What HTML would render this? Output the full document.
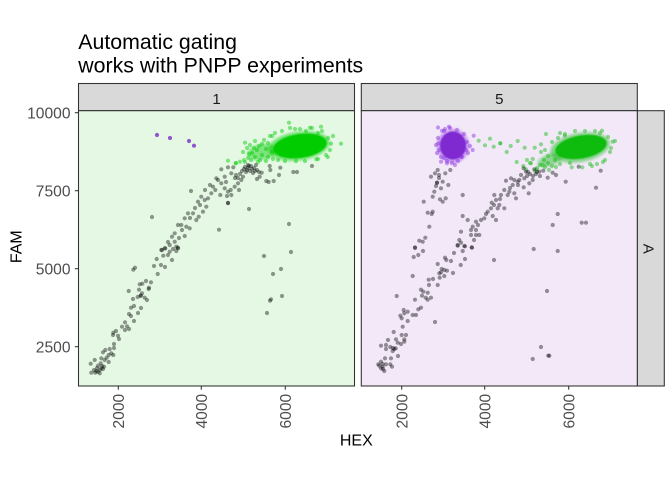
<!DOCTYPE html>
<html><head><meta charset="utf-8"><style>
html,body{margin:0;padding:0;background:#fff;}
svg{display:block;font-family:"Liberation Sans",Arial,sans-serif;}
</style></head><body>
<svg width="672" height="480" viewBox="0 0 672 480" xmlns="http://www.w3.org/2000/svg">
<defs>
<filter id="b1" x="-30%" y="-30%" width="160%" height="160%"><feGaussianBlur stdDeviation="1.2"/></filter>
<filter id="b2" x="-30%" y="-30%" width="160%" height="160%"><feGaussianBlur stdDeviation="0.6"/></filter>
</defs>
<rect width="672" height="480" fill="#fff"/>
<!-- title -->
<text x="78.3" y="49" font-size="21.3" fill="#000">Automatic gating</text>
<text x="78.3" y="72.3" font-size="21.3" fill="#000">works with PNPP experiments</text>

<!-- strips -->
<rect x="78.5" y="83.5" width="276" height="27.2" fill="#D9D9D9" stroke="#333" stroke-width="1.07"/>
<text x="216.5" y="103.8" font-size="15" fill="#1A1A1A" text-anchor="middle">1</text>
<rect x="361.3" y="83.5" width="276" height="27.2" fill="#D9D9D9" stroke="#333" stroke-width="1.07"/>
<text x="499.3" y="103.8" font-size="15" fill="#1A1A1A" text-anchor="middle">5</text>
<rect x="637.3" y="110.7" width="27" height="275.3" fill="#D9D9D9" stroke="#333" stroke-width="1.07"/>
<text transform="translate(643.5,248.8) rotate(90)" font-size="15" fill="#1A1A1A" text-anchor="middle">A</text>

<!-- panel backgrounds -->
<rect x="78.5" y="110.7" width="276" height="275.3" fill="#E4F8E4"/>
<rect x="361.3" y="110.7" width="276" height="275.3" fill="#F2E8F8"/>

<!-- LEFT PANEL -->
<!-- green cluster -->
<g>
<ellipse cx="262" cy="152" rx="15" ry="8" transform="rotate(-10 262 152)" fill="#00CC00" fill-opacity="0.45" filter="url(#b1)"/>
<ellipse cx="299" cy="146" rx="31" ry="14.5" transform="rotate(-8 299 146)" fill="#00CC00" fill-opacity="0.5" filter="url(#b1)"/>
<ellipse cx="300" cy="146" rx="27" ry="12" transform="rotate(-8 300 146)" fill="#00CC00" filter="url(#b2)"/>
</g>
<g fill="#00CC00" fill-opacity="0.45">
<circle cx="243" cy="152" r="2.1"/><circle cx="247" cy="148" r="2.1"/><circle cx="250" cy="145" r="2.1"/><circle cx="252" cy="153" r="2.1"/><circle cx="255" cy="141" r="2.1"/><circle cx="257" cy="150" r="2.1"/><circle cx="259" cy="146" r="2.1"/><circle cx="262" cy="155" r="2.1"/><circle cx="264" cy="140" r="2.1"/><circle cx="266" cy="149" r="2.1"/><circle cx="268" cy="157" r="2.1"/><circle cx="270" cy="136" r="2.1"/><circle cx="272" cy="152" r="2.1"/><circle cx="275" cy="133" r="2.1"/><circle cx="278" cy="160" r="2.1"/><circle cx="282" cy="131" r="2.1"/><circle cx="285" cy="161" r="2.1"/><circle cx="290" cy="128" r="2.1"/><circle cx="296" cy="161" r="2.1"/><circle cx="300" cy="129" r="2.1"/><circle cx="305" cy="161" r="2.1"/><circle cx="312" cy="128" r="2.1"/><circle cx="318" cy="159" r="2.1"/><circle cx="322" cy="131" r="2.1"/><circle cx="328" cy="138" r="2.1"/><circle cx="330" cy="150" r="2.1"/><circle cx="326" cy="155" r="2.1"/><circle cx="260" cy="160" r="2.1"/><circle cx="255" cy="157" r="2.1"/><circle cx="248" cy="158" r="2.1"/><circle cx="244" cy="160" r="2.1"/><circle cx="262" cy="144" r="2.1"/>
<circle cx="289" cy="122.7" r="2.1"/><circle cx="295" cy="129" r="2.1"/><circle cx="321" cy="126.7" r="2.1"/><circle cx="310" cy="127.7" r="2.1"/><circle cx="341" cy="143.7" r="2.1"/><circle cx="331" cy="143.7" r="2.1"/><circle cx="327.7" cy="157" r="2.1"/><circle cx="245" cy="142.7" r="2.1"/><circle cx="228" cy="160.7" r="2.1"/><circle cx="235.7" cy="163.3" r="2.1"/><circle cx="240" cy="161.7" r="2.1"/><circle cx="272.3" cy="136" r="2.1"/><circle cx="316.3" cy="159.3" r="2.1"/><circle cx="236" cy="163" r="2.1"/><circle cx="245" cy="162" r="2.1"/><circle cx="333" cy="136" r="2.1"/><circle cx="318" cy="133" r="2.1"/><circle cx="306" cy="131" r="2.1"/><circle cx="268" cy="143" r="2.1"/><circle cx="273" cy="159" r="2.1"/><circle cx="251" cy="160" r="2.1"/><circle cx="258" cy="162" r="2.1"/><circle cx="266" cy="161" r="2.1"/><circle cx="254" cy="148" r="2.1"/><circle cx="249" cy="154" r="2.1"/>
</g>
<!-- purple outliers -->
<g fill="#7B2FCB" fill-opacity="0.8">
<circle cx="157" cy="135" r="2.1"/><circle cx="170" cy="138" r="2.1"/><circle cx="189" cy="141" r="2.1"/><circle cx="194" cy="145.7" r="2.1"/>
</g>
<!-- black points left -->
<g fill="#000" fill-opacity="0.4">
<circle cx="221.3" cy="169.3" r="2.1"/><circle cx="228" cy="167.3" r="2.1"/><circle cx="233.3" cy="167.3" r="2.1"/><circle cx="231.3" cy="173.3" r="2.1"/><circle cx="224.7" cy="176.7" r="2.1"/><circle cx="216.3" cy="178.3" r="2.1"/><circle cx="221.3" cy="183.3" r="2.1"/><circle cx="213" cy="186.7" r="2.1"/><circle cx="215.3" cy="190" r="2.1"/><circle cx="224.7" cy="188.3" r="2.1"/><circle cx="228" cy="191.7" r="2.1"/><circle cx="230.7" cy="190" r="2.1"/><circle cx="234.7" cy="186.7" r="2.1"/><circle cx="238" cy="183.3" r="2.1"/><circle cx="241.3" cy="180" r="2.1"/><circle cx="243" cy="176.7" r="2.1"/><circle cx="239" cy="190" r="2.1"/><circle cx="231.3" cy="195" r="2.1"/><circle cx="227" cy="196" r="2.1"/><circle cx="220.3" cy="195" r="2.1"/><circle cx="211.3" cy="193.3" r="2.1"/><circle cx="208" cy="198.3" r="2.1"/><circle cx="204.7" cy="200" r="2.1"/><circle cx="201.3" cy="196.7" r="2.1"/><circle cx="198" cy="201.7" r="2.1"/><circle cx="206.3" cy="206.7" r="2.1"/><circle cx="203" cy="211.7" r="2.1"/><circle cx="198.7" cy="216.7" r="2.1"/><circle cx="196.3" cy="220" r="2.1"/><circle cx="193" cy="213.3" r="2.1"/><circle cx="188" cy="213.3" r="2.1"/><circle cx="184.7" cy="218.3" r="2.1"/><circle cx="181.3" cy="225" r="2.1"/><circle cx="186.3" cy="226.7" r="2.1"/><circle cx="189.7" cy="228.3" r="2.1"/><circle cx="178" cy="225" r="2.1"/><circle cx="174.7" cy="233.3" r="2.1"/><circle cx="172" cy="236.7" r="2.1"/><circle cx="184.7" cy="236" r="2.1"/><circle cx="174.7" cy="241.7" r="2.1"/><circle cx="169.7" cy="245" r="2.1"/><circle cx="164.7" cy="248.3" r="2.1"/><circle cx="161.3" cy="250" r="2.1"/><circle cx="176.3" cy="246.7" r="2.1"/><circle cx="178" cy="248.3" r="2.1"/>
<circle cx="245" cy="167" r="2.1"/><circle cx="248" cy="165" r="2.1"/><circle cx="251" cy="166" r="2.1"/><circle cx="254" cy="168" r="2.1"/><circle cx="257" cy="170" r="2.1"/><circle cx="250" cy="171" r="2.1"/><circle cx="246" cy="172" r="2.1"/><circle cx="253" cy="173" r="2.1"/><circle cx="242" cy="171" r="2.1"/><circle cx="256" cy="165" r="2.1"/><circle cx="259" cy="172" r="2.1"/><circle cx="236" cy="175" r="2.1"/><circle cx="240" cy="174" r="2.1"/><circle cx="238" cy="178" r="2.1"/><circle cx="248" cy="168" r="2.1"/><circle cx="252" cy="169" r="2.1"/><circle cx="249" cy="166" r="2.1"/><circle cx="255" cy="171" r="2.1"/><circle cx="244" cy="169" r="2.1"/><circle cx="247" cy="170" r="2.1"/>
<circle cx="152" cy="217" r="2.1"/><circle cx="191" cy="191" r="2.1"/><circle cx="219" cy="229.7" r="2.1"/><circle cx="249" cy="209" r="2.1"/><circle cx="289" cy="224" r="2.1"/><circle cx="228" cy="203" r="2.1"/><circle cx="228" cy="203" r="2.1"/><circle cx="312" cy="166" r="2.1"/><circle cx="293.3" cy="172" r="2.1"/><circle cx="297" cy="172" r="2.1"/><circle cx="279" cy="175" r="2.1"/><circle cx="280.3" cy="167.7" r="2.1"/><circle cx="273.7" cy="181" r="2.1"/><circle cx="266.3" cy="181" r="2.1"/><circle cx="268.7" cy="182" r="2.1"/><circle cx="261.7" cy="172.7" r="2.1"/><circle cx="257" cy="179" r="2.1"/><circle cx="259.7" cy="176.7" r="2.1"/><circle cx="269.7" cy="166" r="2.1"/><circle cx="270.3" cy="170" r="2.1"/>
<circle cx="210" cy="185" r="2.1"/><circle cx="218" cy="180" r="2.1"/><circle cx="226" cy="182" r="2.1"/><circle cx="235" cy="178" r="2.1"/><circle cx="205" cy="190" r="2.1"/><circle cx="200" cy="205" r="2.1"/><circle cx="195" cy="208" r="2.1"/><circle cx="190" cy="218" r="2.1"/><circle cx="182" cy="230" r="2.1"/><circle cx="179" cy="238" r="2.1"/><circle cx="168" cy="242" r="2.1"/>
<circle cx="165.3" cy="248.3" r="2.1"/><circle cx="162" cy="250" r="2.1"/><circle cx="173" cy="249" r="2.1"/><circle cx="178" cy="247.7" r="2.1"/><circle cx="176.3" cy="251" r="2.1"/><circle cx="169.7" cy="251.7" r="2.1"/><circle cx="172" cy="260" r="2.1"/><circle cx="168" cy="255" r="2.1"/><circle cx="163.3" cy="255.7" r="2.1"/><circle cx="156.7" cy="259" r="2.1"/><circle cx="154" cy="266" r="2.1"/><circle cx="161" cy="265" r="2.1"/><circle cx="165" cy="267" r="2.1"/><circle cx="157.7" cy="274" r="2.1"/><circle cx="133.3" cy="269.7" r="2.1"/><circle cx="135" cy="267.7" r="2.1"/><circle cx="128.7" cy="291" r="2.1"/><circle cx="133" cy="299" r="2.1"/><circle cx="139.7" cy="284.3" r="2.1"/><circle cx="142.3" cy="283.7" r="2.1"/><circle cx="146" cy="281" r="2.1"/><circle cx="151" cy="282.3" r="2.1"/><circle cx="149" cy="287.7" r="2.1"/><circle cx="148.7" cy="289" r="2.1"/><circle cx="139" cy="289.7" r="2.1"/><circle cx="142" cy="293.3" r="2.1"/><circle cx="140.7" cy="295.7" r="2.1"/><circle cx="140.7" cy="295.7" r="2.1"/><circle cx="137.7" cy="297" r="2.1"/><circle cx="144.7" cy="297.7" r="2.1"/><circle cx="147" cy="300" r="2.1"/><circle cx="131" cy="307.7" r="2.1"/><circle cx="134" cy="306" r="2.1"/><circle cx="141" cy="308" r="2.1"/><circle cx="138" cy="313" r="2.1"/><circle cx="129" cy="314" r="2.1"/><circle cx="131" cy="316" r="2.1"/><circle cx="134" cy="321" r="2.1"/><circle cx="125" cy="322.3" r="2.1"/><circle cx="127" cy="326.3" r="2.1"/><circle cx="122" cy="326.7" r="2.1"/><circle cx="125" cy="330" r="2.1"/><circle cx="129" cy="329" r="2.1"/><circle cx="113.3" cy="332.7" r="2.1"/><circle cx="113" cy="335" r="2.1"/><circle cx="116" cy="331" r="2.1"/><circle cx="118" cy="335.7" r="2.1"/><circle cx="119" cy="339" r="2.1"/><circle cx="114" cy="344" r="2.1"/><circle cx="114" cy="348" r="2.1"/><circle cx="109.7" cy="349" r="2.1"/><circle cx="105.3" cy="350" r="2.1"/><circle cx="103" cy="352.3" r="2.1"/><circle cx="111.3" cy="353.3" r="2.1"/><circle cx="108.7" cy="355" r="2.1"/><circle cx="113.3" cy="355" r="2.1"/><circle cx="106.7" cy="357.7" r="2.1"/><circle cx="101.3" cy="358.3" r="2.1"/><circle cx="104.7" cy="360" r="2.1"/><circle cx="94.7" cy="360" r="2.1"/><circle cx="90.7" cy="363.7" r="2.1"/><circle cx="100.7" cy="363.3" r="2.1"/><circle cx="98" cy="365.7" r="2.1"/><circle cx="104" cy="366.7" r="2.1"/><circle cx="101.3" cy="368.3" r="2.1"/><circle cx="94" cy="370" r="2.1"/><circle cx="98" cy="371.7" r="2.1"/><circle cx="91.3" cy="372.7" r="2.1"/><circle cx="95.3" cy="372.7" r="2.1"/><circle cx="99.7" cy="373.3" r="2.1"/><circle cx="108.7" cy="362" r="2.1"/><circle cx="103" cy="369" r="2.1"/><circle cx="96.3" cy="371" r="2.1"/><circle cx="100" cy="370" r="2.1"/><circle cx="97" cy="368" r="2.1"/><circle cx="102" cy="366" r="2.1"/>
<circle cx="264" cy="256" r="2.1"/><circle cx="291" cy="252" r="2.1"/><circle cx="281" cy="269" r="2.1"/><circle cx="273" cy="274" r="2.1"/><circle cx="270" cy="300.7" r="2.1"/><circle cx="271" cy="299.3" r="2.1"/><circle cx="282" cy="296" r="2.1"/><circle cx="267" cy="313" r="2.1"/>
</g>

<!-- RIGHT PANEL -->
<!-- purple cluster -->
<ellipse cx="453" cy="146" rx="16" ry="17" fill="#8A2BE2" fill-opacity="0.45" filter="url(#b1)"/>
<ellipse cx="453" cy="145.5" rx="13" ry="14" fill="#7E2BD0" filter="url(#b2)"/>
<g fill="#8A2BE2" fill-opacity="0.45">
<circle cx="438" cy="138" r="2.1"/><circle cx="439" cy="150" r="2.1"/><circle cx="441" cy="157" r="2.1"/><circle cx="444" cy="131" r="2.1"/><circle cx="447" cy="161" r="2.1"/><circle cx="452" cy="163" r="2.1"/><circle cx="458" cy="161" r="2.1"/><circle cx="462" cy="157" r="2.1"/><circle cx="466" cy="150" r="2.1"/><circle cx="467" cy="142" r="2.1"/><circle cx="464" cy="134" r="2.1"/><circle cx="457" cy="130" r="2.1"/><circle cx="450" cy="128" r="2.1"/><circle cx="445" cy="129" r="2.1"/><circle cx="470" cy="146" r="2.1"/><circle cx="468" cy="153" r="2.1"/><circle cx="436" cy="145" r="2.1"/>
<circle cx="449" cy="126.7" r="2.1"/><circle cx="442" cy="130.7" r="2.1"/><circle cx="473.7" cy="135.7" r="2.1"/><circle cx="472.7" cy="150" r="2.1"/><circle cx="441" cy="161.7" r="2.1"/><circle cx="455" cy="165" r="2.1"/><circle cx="447" cy="163.3" r="2.1"/><circle cx="438.3" cy="143.3" r="2.1"/><circle cx="461" cy="156.7" r="2.1"/><circle cx="438" cy="127.5" r="2.1"/><circle cx="444" cy="158" r="2.1"/><circle cx="437" cy="153" r="2.1"/>
</g>
<!-- green cluster right -->
<ellipse cx="550" cy="160" rx="13" ry="6" transform="rotate(-20 550 160)" fill="#11BB11" fill-opacity="0.45" filter="url(#b1)"/>
<ellipse cx="580" cy="147.5" rx="30" ry="14.5" transform="rotate(-10 580 147.5)" fill="#11BB11" fill-opacity="0.5" filter="url(#b1)"/>
<ellipse cx="581" cy="147" rx="26" ry="11.5" transform="rotate(-10 581 147)" fill="#10BC10" filter="url(#b2)"/>
<g fill="#11BB11" fill-opacity="0.45">
<circle cx="545" cy="150" r="2.1"/><circle cx="548" cy="156" r="2.1"/><circle cx="552" cy="142" r="2.1"/><circle cx="555" cy="160" r="2.1"/><circle cx="558" cy="138" r="2.1"/><circle cx="560" cy="164" r="2.1"/><circle cx="565" cy="134" r="2.1"/><circle cx="570" cy="163" r="2.1"/><circle cx="575" cy="131" r="2.1"/><circle cx="585" cy="131" r="2.1"/><circle cx="590" cy="164" r="2.1"/><circle cx="595" cy="131" r="2.1"/><circle cx="600" cy="133" r="2.1"/><circle cx="605" cy="160" r="2.1"/><circle cx="608" cy="137" r="2.1"/><circle cx="611" cy="148" r="2.1"/><circle cx="544" cy="160" r="2.1"/><circle cx="540" cy="165" r="2.1"/><circle cx="537" cy="168" r="2.1"/><circle cx="535" cy="171" r="2.1"/><circle cx="548" cy="163" r="2.1"/><circle cx="552" cy="166" r="2.1"/><circle cx="556" cy="167" r="2.1"/><circle cx="530" cy="163" r="2.1"/><circle cx="527" cy="160" r="2.1"/>
<circle cx="546" cy="134" r="2.1"/><circle cx="564.7" cy="135.7" r="2.1"/><circle cx="602" cy="130.7" r="2.1"/><circle cx="612.7" cy="141.7" r="2.1"/><circle cx="610" cy="152" r="2.1"/><circle cx="592" cy="166" r="2.1"/><circle cx="582.3" cy="167.3" r="2.1"/><circle cx="571.7" cy="167.3" r="2.1"/><circle cx="478.7" cy="140.7" r="2.1"/><circle cx="490" cy="138.7" r="2.1"/><circle cx="485" cy="145.3" r="2.1"/><circle cx="493.7" cy="146.7" r="2.1"/><circle cx="500.3" cy="143.3" r="2.1"/><circle cx="500.3" cy="143.3" r="2.1"/><circle cx="510.7" cy="146" r="2.1"/><circle cx="506.7" cy="152" r="2.1"/><circle cx="517.7" cy="141" r="2.1"/><circle cx="524.7" cy="147.7" r="2.1"/><circle cx="534.7" cy="147.7" r="2.1"/><circle cx="541" cy="144.3" r="2.1"/><circle cx="541" cy="152" r="2.1"/><circle cx="516.7" cy="162" r="2.1"/><circle cx="523.3" cy="166" r="2.1"/><circle cx="531" cy="163.3" r="2.1"/><circle cx="532.7" cy="159" r="2.1"/><circle cx="536.7" cy="169.3" r="2.1"/><circle cx="526" cy="169.3" r="2.1"/><circle cx="542.7" cy="165" r="2.1"/><circle cx="545" cy="167" r="2.1"/><circle cx="549" cy="170" r="2.1"/><circle cx="615" cy="141" r="2.1"/><circle cx="603" cy="162" r="2.1"/><circle cx="597" cy="164" r="2.1"/><circle cx="560" cy="133" r="2.1"/>
</g>
<!-- black points right -->
<g fill="#000" fill-opacity="0.4">
<circle cx="437.7" cy="170" r="2.1"/><circle cx="435" cy="173.3" r="2.1"/><circle cx="439" cy="175" r="2.1"/><circle cx="445.3" cy="173.3" r="2.1"/><circle cx="431" cy="176.7" r="2.1"/><circle cx="442.7" cy="181.7" r="2.1"/><circle cx="437" cy="182.7" r="2.1"/><circle cx="437" cy="182.7" r="2.1"/><circle cx="448.3" cy="185" r="2.1"/><circle cx="441" cy="188.3" r="2.1"/><circle cx="434.3" cy="191.7" r="2.1"/><circle cx="432.7" cy="196.7" r="2.1"/><circle cx="440" cy="199.3" r="2.1"/><circle cx="445.7" cy="198.3" r="2.1"/><circle cx="442.7" cy="201.7" r="2.1"/><circle cx="423.7" cy="201.7" r="2.1"/><circle cx="462.7" cy="195" r="2.1"/><circle cx="427.7" cy="212.7" r="2.1"/><circle cx="432.7" cy="211.7" r="2.1"/><circle cx="431.7" cy="214" r="2.1"/><circle cx="429.3" cy="226.7" r="2.1"/><circle cx="425.3" cy="237.7" r="2.1"/><circle cx="419.3" cy="240.7" r="2.1"/><circle cx="422.7" cy="241.7" r="2.1"/><circle cx="415" cy="247.3" r="2.1"/><circle cx="450.3" cy="170" r="2.1"/><circle cx="436" cy="186" r="2.1"/><circle cx="439" cy="178" r="2.1"/>
<circle cx="523.7" cy="168.3" r="2.1"/><circle cx="526" cy="171.7" r="2.1"/><circle cx="534.3" cy="169.3" r="2.1"/><circle cx="539.3" cy="171.7" r="2.1"/><circle cx="543.3" cy="170.7" r="2.1"/><circle cx="552.7" cy="172.7" r="2.1"/><circle cx="547.7" cy="177.7" r="2.1"/><circle cx="556" cy="175" r="2.1"/><circle cx="565.7" cy="181.7" r="2.1"/><circle cx="578.7" cy="166.7" r="2.1"/><circle cx="600.7" cy="170.7" r="2.1"/><circle cx="596" cy="187.7" r="2.1"/><circle cx="521" cy="175" r="2.1"/><circle cx="519.3" cy="180" r="2.1"/><circle cx="524.3" cy="178.3" r="2.1"/><circle cx="529.3" cy="183.3" r="2.1"/><circle cx="532.7" cy="180" r="2.1"/><circle cx="514.3" cy="180" r="2.1"/><circle cx="511" cy="178.3" r="2.1"/><circle cx="506" cy="180.7" r="2.1"/><circle cx="512.7" cy="185" r="2.1"/><circle cx="517.7" cy="181.7" r="2.1"/><circle cx="523.7" cy="187.3" r="2.1"/><circle cx="504.3" cy="190" r="2.1"/><circle cx="509.3" cy="191.7" r="2.1"/><circle cx="514.3" cy="193.3" r="2.1"/><circle cx="516" cy="198.3" r="2.1"/><circle cx="507.7" cy="195" r="2.1"/><circle cx="501" cy="195" r="2.1"/><circle cx="494.3" cy="195" r="2.1"/><circle cx="496" cy="200" r="2.1"/><circle cx="491.7" cy="202.7" r="2.1"/><circle cx="499.3" cy="205" r="2.1"/><circle cx="504.3" cy="208.3" r="2.1"/><circle cx="497.7" cy="208.3" r="2.1"/><circle cx="491" cy="208.3" r="2.1"/><circle cx="487.7" cy="211.7" r="2.1"/><circle cx="492.7" cy="216" r="2.1"/><circle cx="496" cy="220" r="2.1"/><circle cx="484.3" cy="218.3" r="2.1"/><circle cx="481" cy="220" r="2.1"/><circle cx="476" cy="221.7" r="2.1"/><circle cx="467.7" cy="220" r="2.1"/><circle cx="462.7" cy="216" r="2.1"/><circle cx="472.7" cy="226.7" r="2.1"/><circle cx="476" cy="230" r="2.1"/><circle cx="471" cy="230" r="2.1"/><circle cx="479.3" cy="235" r="2.1"/><circle cx="476" cy="235" r="2.1"/><circle cx="471" cy="235" r="2.1"/><circle cx="461" cy="231.7" r="2.1"/><circle cx="459.3" cy="240" r="2.1"/><circle cx="461" cy="242.7" r="2.1"/><circle cx="457.7" cy="245" r="2.1"/><circle cx="464.3" cy="246" r="2.1"/><circle cx="471.7" cy="247.3" r="2.1"/><circle cx="528.7" cy="193.3" r="2.1"/><circle cx="557.7" cy="214" r="2.1"/><circle cx="552.7" cy="225" r="2.1"/><circle cx="581.7" cy="222.7" r="2.1"/><circle cx="586" cy="222.7" r="2.1"/>
<circle cx="528" cy="172" r="2.1"/><circle cx="530" cy="174" r="2.1"/><circle cx="536" cy="174" r="2.1"/><circle cx="540" cy="176" r="2.1"/><circle cx="527" cy="176" r="2.1"/><circle cx="518" cy="185" r="2.1"/><circle cx="510" cy="188" r="2.1"/><circle cx="500" cy="199" r="2.1"/><circle cx="494" cy="205" r="2.1"/><circle cx="486" cy="214" r="2.1"/><circle cx="478" cy="225" r="2.1"/><circle cx="474" cy="240" r="2.1"/><circle cx="537" cy="172" r="2.1"/><circle cx="533" cy="176" r="2.1"/>
<circle cx="415" cy="248" r="2.1"/><circle cx="423" cy="251" r="2.1"/><circle cx="418.3" cy="255" r="2.1"/><circle cx="413.7" cy="257" r="2.1"/><circle cx="457.7" cy="245.7" r="2.1"/><circle cx="462.7" cy="251" r="2.1"/><circle cx="465" cy="246.3" r="2.1"/><circle cx="472" cy="247.7" r="2.1"/><circle cx="454" cy="253" r="2.1"/><circle cx="465" cy="259" r="2.1"/><circle cx="460.7" cy="265" r="2.1"/><circle cx="451" cy="261" r="2.1"/><circle cx="445" cy="257.7" r="2.1"/><circle cx="446.3" cy="260" r="2.1"/><circle cx="437.7" cy="264" r="2.1"/><circle cx="441.7" cy="269" r="2.1"/><circle cx="444.3" cy="270" r="2.1"/><circle cx="447" cy="270.7" r="2.1"/><circle cx="439.3" cy="273.3" r="2.1"/><circle cx="441" cy="272.3" r="2.1"/><circle cx="453" cy="273" r="2.1"/><circle cx="444.3" cy="276" r="2.1"/><circle cx="439.7" cy="277.7" r="2.1"/><circle cx="433" cy="279" r="2.1"/><circle cx="428.7" cy="279.7" r="2.1"/><circle cx="412.7" cy="276" r="2.1"/><circle cx="429" cy="285" r="2.1"/><circle cx="437.7" cy="285" r="2.1"/><circle cx="421" cy="289.7" r="2.1"/><circle cx="423.3" cy="291.7" r="2.1"/><circle cx="427.7" cy="292.7" r="2.1"/><circle cx="422" cy="295.7" r="2.1"/><circle cx="425.7" cy="297.7" r="2.1"/><circle cx="431" cy="297.7" r="2.1"/><circle cx="427.7" cy="299.7" r="2.1"/><circle cx="415" cy="299.7" r="2.1"/><circle cx="396.7" cy="296" r="2.1"/><circle cx="421" cy="307.7" r="2.1"/><circle cx="418.3" cy="309.3" r="2.1"/><circle cx="403.7" cy="310" r="2.1"/><circle cx="407.7" cy="311.7" r="2.1"/><circle cx="404.3" cy="313.3" r="2.1"/><circle cx="412.7" cy="315" r="2.1"/><circle cx="416" cy="315" r="2.1"/><circle cx="400.3" cy="315.7" r="2.1"/><circle cx="401.7" cy="318.3" r="2.1"/><circle cx="407.7" cy="321" r="2.1"/><circle cx="435" cy="322" r="2.1"/><circle cx="402.7" cy="326.7" r="2.1"/><circle cx="393.7" cy="332" r="2.1"/><circle cx="401.7" cy="335" r="2.1"/><circle cx="406" cy="335" r="2.1"/><circle cx="388" cy="340" r="2.1"/><circle cx="396" cy="339.3" r="2.1"/><circle cx="404.3" cy="339.3" r="2.1"/><circle cx="397.7" cy="342.7" r="2.1"/><circle cx="404.3" cy="341.7" r="2.1"/><circle cx="401" cy="344" r="2.1"/><circle cx="381" cy="345.7" r="2.1"/><circle cx="386" cy="345" r="2.1"/><circle cx="386" cy="349" r="2.1"/><circle cx="390.3" cy="347" r="2.1"/><circle cx="395.7" cy="348.3" r="2.1"/><circle cx="392.7" cy="351" r="2.1"/><circle cx="394.3" cy="349" r="2.1"/><circle cx="398" cy="356" r="2.1"/><circle cx="385" cy="358.3" r="2.1"/><circle cx="391" cy="358.3" r="2.1"/><circle cx="381" cy="361.7" r="2.1"/><circle cx="379.3" cy="365.7" r="2.1"/><circle cx="382.7" cy="364" r="2.1"/><circle cx="386" cy="364.3" r="2.1"/><circle cx="390.3" cy="364.3" r="2.1"/><circle cx="392" cy="366.7" r="2.1"/><circle cx="381" cy="368.3" r="2.1"/><circle cx="384.3" cy="371" r="2.1"/><circle cx="382.7" cy="366.7" r="2.1"/><circle cx="378.3" cy="364.3" r="2.1"/><circle cx="383" cy="369" r="2.1"/><circle cx="393" cy="348" r="2.1"/>
<circle cx="494" cy="260" r="2.1"/><circle cx="533.7" cy="249" r="2.1"/><circle cx="557.7" cy="251" r="2.1"/><circle cx="547" cy="291" r="2.1"/><circle cx="541" cy="347" r="2.1"/><circle cx="532.7" cy="359" r="2.1"/><circle cx="548.3" cy="355.7" r="2.1"/><circle cx="549.3" cy="355.7" r="2.1"/>
</g>

<!-- panel borders -->
<rect x="78.5" y="110.7" width="276" height="275.3" fill="none" stroke="#333" stroke-width="1.07"/>
<rect x="361.3" y="110.7" width="276" height="275.3" fill="none" stroke="#333" stroke-width="1.07"/>

<!-- y axis ticks -->
<g stroke="#333" stroke-width="1.07">
<line x1="74.8" y1="112.7" x2="78.5" y2="112.7"/>
<line x1="74.8" y1="190.7" x2="78.5" y2="190.7"/>
<line x1="74.8" y1="268.7" x2="78.5" y2="268.7"/>
<line x1="74.8" y1="346.7" x2="78.5" y2="346.7"/>
</g>
<g font-size="15.6" fill="#4D4D4D" text-anchor="end">
<text x="70.5" y="118.3">10000</text>
<text x="70.5" y="196.3">7500</text>
<text x="70.5" y="274.3">5000</text>
<text x="70.5" y="352.3">2500</text>
</g>

<!-- x axis ticks -->
<g stroke="#333" stroke-width="1.07">
<line x1="118.3" y1="386" x2="118.3" y2="389.7"/>
<line x1="201.3" y1="386" x2="201.3" y2="389.7"/>
<line x1="285.3" y1="386" x2="285.3" y2="389.7"/>
<line x1="401.7" y1="386" x2="401.7" y2="389.7"/>
<line x1="484.7" y1="386" x2="484.7" y2="389.7"/>
<line x1="568.7" y1="386" x2="568.7" y2="389.7"/>
</g>
<g font-size="15.6" fill="#4D4D4D" text-anchor="end">
<text transform="translate(123.9,393.8) rotate(-90)">2000</text>
<text transform="translate(206.9,393.8) rotate(-90)">4000</text>
<text transform="translate(290.9,393.8) rotate(-90)">6000</text>
<text transform="translate(407.3,393.8) rotate(-90)">2000</text>
<text transform="translate(490.3,393.8) rotate(-90)">4000</text>
<text transform="translate(574.3,393.8) rotate(-90)">6000</text>
</g>

<!-- axis titles -->
<text x="356.3" y="445.5" font-size="16" fill="#000" text-anchor="middle">HEX</text>
<text transform="translate(21.7,246.7) rotate(-90)" font-size="16" fill="#000" text-anchor="middle">FAM</text>
</svg>
</body></html>
